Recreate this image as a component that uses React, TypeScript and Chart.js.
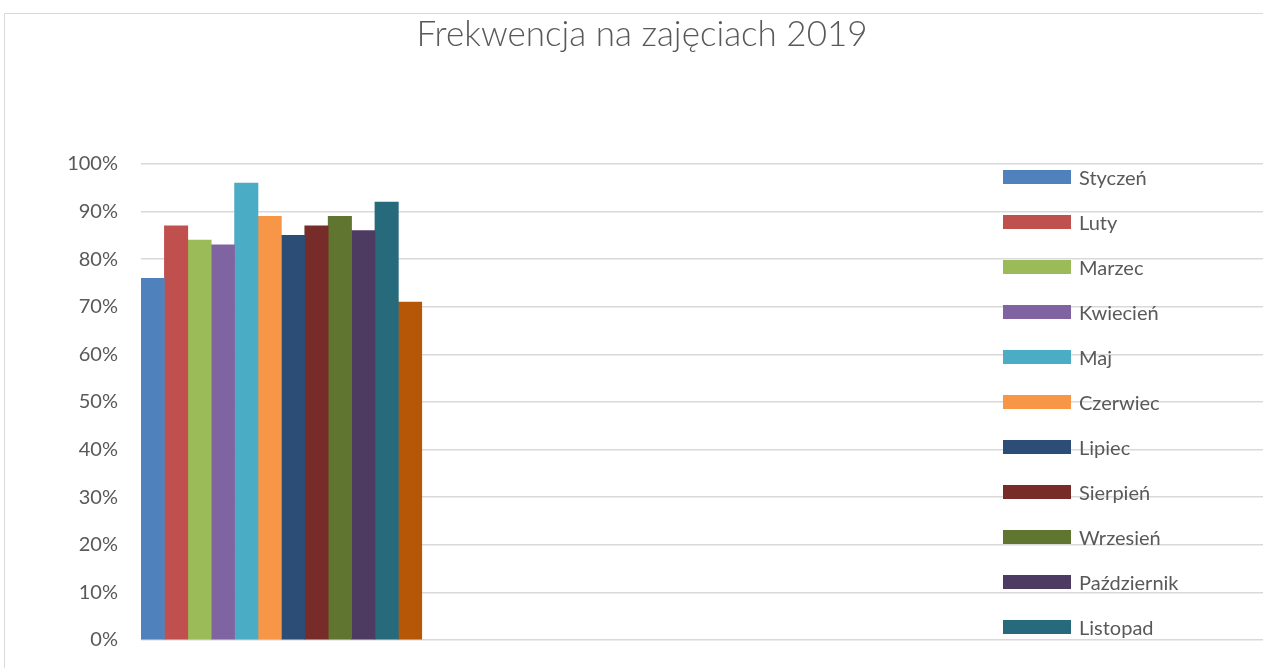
import React, { useEffect, useRef } from "react";
import { Chart, registerables } from "chart.js";

Chart.register(...registerables);

const title = "Frekwencja na zajęciach 2019";
const categories = ["2019", "", "", ""];
const months = [
  "Styczeń", "Luty", "Marzec", "Kwiecień", "Maj", "Czerwiec",
  "Lipiec", "Sierpień", "Wrzesień", "Październik", "Listopad", "Grudzień",
];
const values = [76, 87, 84, 83, 96, 89, 85, 87, 89, 86, 92, 71];
const colors = [
  "#4F81BD", "#C0504D", "#9BBB59", "#8064A2", "#4BACC6", "#F79646",
  "#2C4D75", "#772C2A", "#5F7530", "#4D3B62", "#276A7C", "#B65708",
];
const yTicks = [0, 10, 20, 30, 40, 50, 60, 70, 80, 90, 100];

const FONT = "Lato, 'Open Sans', sans-serif";
const TEXT = "#595959";

export default function App() {
  const ref = useRef<HTMLCanvasElement | null>(null);

  useEffect(() => {
    if (!ref.current) return;
    const chart = new Chart(ref.current, {
      type: "bar",
      data: {
        labels: categories,
        datasets: months.map((m, i) => ({
          label: m,
          data: [values[i], null, null, null],
          backgroundColor: colors[i],
          borderWidth: 0,
          barPercentage: 1,
          categoryPercentage: 1,
        })),
      },
      options: {
        responsive: false,
        maintainAspectRatio: false,
        animation: false,
        layout: { padding: { top: 0, right: 15, bottom: 36, left: 15 } },
        plugins: {
          legend: { display: false },
          tooltip: { enabled: false },
          title: {
            display: true,
            text: title,
            color: TEXT,
            font: { family: FONT, size: 35, weight: "300" as any },
            padding: { top: 0, bottom: 108 },
          },
        },
        scales: {
          x: { display: false },
          y: {
            min: 0,
            max: 100,
            afterFit: (s: any) => {
              s.width = 121;
            },
            afterBuildTicks: (s: any) => {
              s.ticks = yTicks.map((v) => ({ value: v }));
            },
            ticks: {
              padding: 23,
              color: TEXT,
              font: { family: FONT, size: 20 },
              callback: (v: any) => v + "%",
            },
            grid: { color: "#d9d9d9", lineWidth: 1.5, drawTicks: false },
            border: { display: false },
          },
        },
      },
    });
    return () => chart.destroy();
  }, []);

  return (
    <div style={{ position: "fixed", left: 0, top: 0, width: "100vw", height: "100vh", overflow: "hidden", background: "#fff" }}>
      <div
        style={{
          position: "absolute",
          left: 4,
          top: 13,
          width: 1274,
          height: 700,
          border: "1px solid #d9d9d9",
          background: "#fff",
        }}
      >
        <div style={{ position: "relative", width: 1274, height: 662 }}>
          <canvas ref={ref} width={1274} height={662} style={{ display: "block", width: 1274, height: 662 }} />
        </div>
        <div style={{ position: "absolute", left: 990, top: 150, width: 260, height: 495, overflow: "hidden" }}>
          {months.map((m, i) => (
            <div
              key={m}
              style={{
                position: "absolute",
                left: 1003 - 5 - 990,
                top: 170 - 14 - 150 + 45 * i,
                height: 14,
                display: "flex",
                alignItems: "center",
                whiteSpace: "nowrap",
              }}
            >
              <span style={{ display: "inline-block", width: 68, height: 14, background: colors[i] }} />
              <span style={{ marginLeft: 8, font: `20px ${FONT}`, color: TEXT, lineHeight: "14px" }}>{m}</span>
            </div>
          ))}
        </div>
      </div>
    </div>
  );
}
